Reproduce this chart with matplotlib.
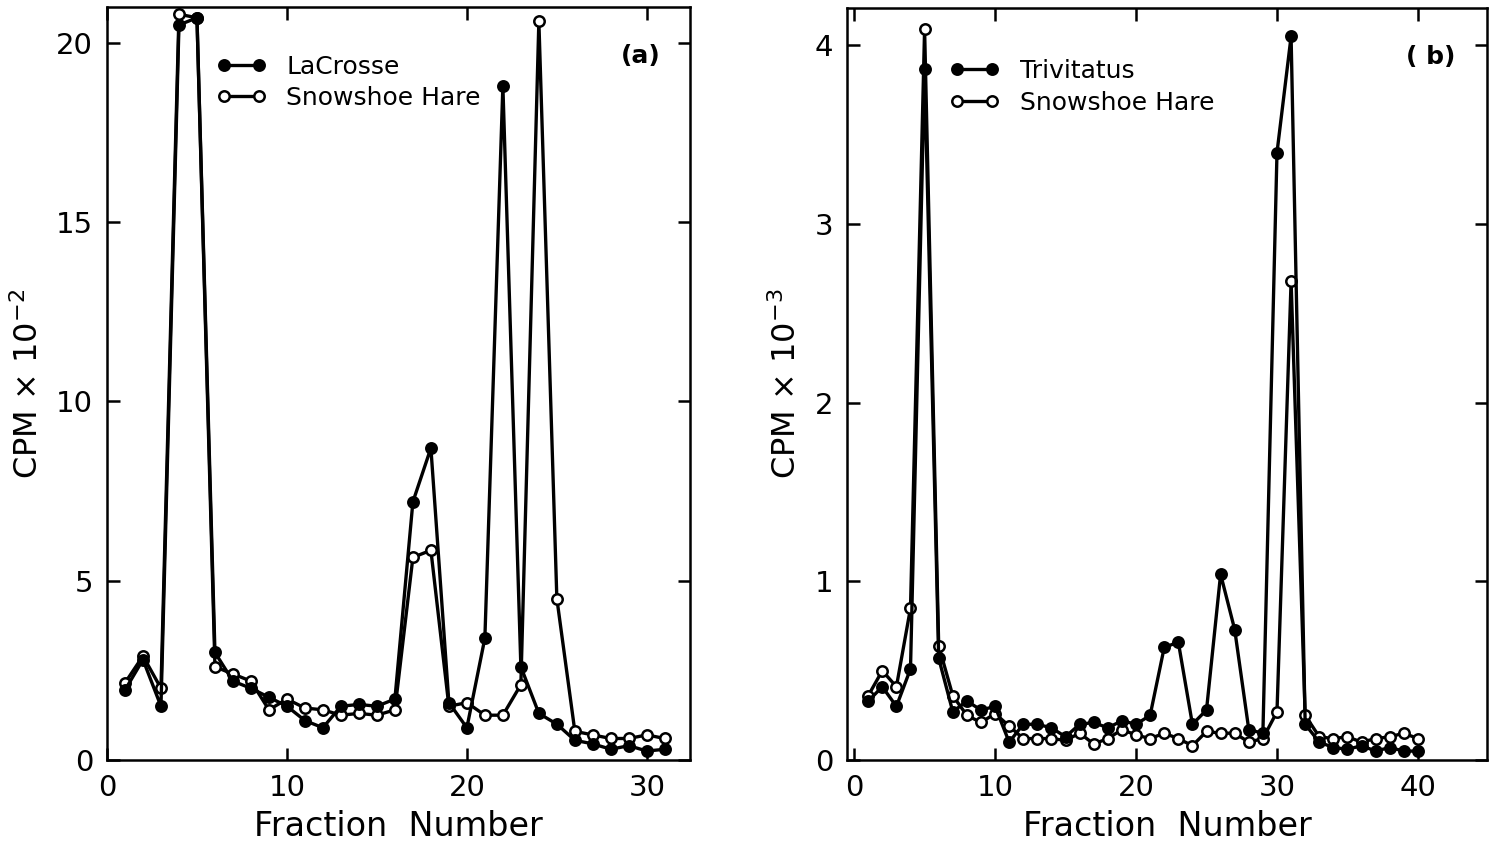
import matplotlib
matplotlib.use('Agg')
import matplotlib.pyplot as plt

# panel (a): fractions 1..31
fractions_a = list(range(1, 32))
lacrosse = [1.95, 2.8, 1.5, 20.5, 20.7, 3.0, 2.2, 2.0, 1.75, 1.5, 1.1, 0.9, 1.5, 1.55, 1.5, 1.7,
            7.2, 8.7, 1.6, 0.9, 3.4, 18.8, 2.6, 1.3, 1.0, 0.55, 0.45, 0.3, 0.4, 0.25, 0.3]
hare_a = [2.15, 2.9, 2.0, 20.8, 20.7, 2.6, 2.4, 2.2, 1.4, 1.7, 1.45, 1.4, 1.25, 1.3, 1.25, 1.4,
          5.65, 5.85, 1.5, 1.6, 1.25, 1.25, 2.1, 20.6, 4.5, 0.8, 0.7, 0.6, 0.6, 0.7, 0.6]

# panel (b): fractions 1..40
fractions_b = list(range(1, 41))
trivitatus = [0.33, 0.41, 0.30, 0.51, 3.87, 0.57, 0.27, 0.33, 0.28, 0.30, 0.10, 0.20, 0.20, 0.18,
              0.13, 0.20, 0.21, 0.18, 0.22, 0.20, 0.25, 0.63, 0.66, 0.20, 0.28, 1.04, 0.73, 0.17,
              0.15, 3.40, 4.05, 0.20, 0.10, 0.07, 0.06, 0.08, 0.05, 0.07, 0.05, 0.05]
hare_b = [0.36, 0.50, 0.41, 0.85, 4.09, 0.64, 0.36, 0.25, 0.21, 0.26, 0.19, 0.12, 0.12, 0.12,
          0.11, 0.15, 0.09, 0.12, 0.17, 0.14, 0.12, 0.15, 0.12, 0.08, 0.16, 0.15, 0.15, 0.10,
          0.12, 0.27, 2.68, 0.25, 0.13, 0.12, 0.13, 0.10, 0.12, 0.13, 0.15, 0.12]

plt.rcParams['font.family'] = ['DejaVu Sans']

fig = plt.figure(figsize=(14.9, 8.47), dpi=100)
ax_a = fig.add_axes([0.0718, 0.1027, 0.3913, 0.889])
ax_b = fig.add_axes([0.5685, 0.1027, 0.4295, 0.888])

line_kw = dict(color='black', linewidth=2.4, marker='o', markersize=7.5, markeredgewidth=1.8)


def draw_panel(ax, x, filled, opened, filled_name, tag, xticks, yticks, xlim, ylim, exp, leg_pos):
    ax.plot(x, opened, markerfacecolor='white', markeredgecolor='black', label='Snowshoe Hare',
            zorder=2, **line_kw)
    ax.plot(x, filled, markerfacecolor='black', markeredgecolor='black', label=filled_name,
            zorder=3, **line_kw)
    ax.set_xlim(*xlim)
    ax.set_ylim(*ylim)
    ax.set_xticks(xticks)
    ax.set_yticks(yticks)
    ax.tick_params(direction='in', length=9, width=1.8, labelsize=21, pad=10,
                   top=True, right=True)
    for s in ax.spines.values():
        s.set_linewidth(1.8)
    ax.set_xlabel('Fraction  Number', fontsize=24, labelpad=6)
    ax.set_ylabel(r'CPM $\times$ 10$^{%s}$' % exp, fontsize=23, labelpad=8)
    handles, labels = ax.get_legend_handles_labels()
    ax.legend(handles[::-1], labels[::-1], loc='upper left', bbox_to_anchor=leg_pos,
              frameon=False, fontsize=18, numpoints=2, handlelength=2.0,
              handletextpad=0.8, labelspacing=0.3, borderaxespad=0)
    ax.text(0.95, 0.935, tag, transform=ax.transAxes, fontsize=18, fontweight='bold',
            ha='right', va='center')


draw_panel(ax_a, fractions_a, lacrosse, hare_a, 'LaCrosse', '(a)', [0, 10, 20, 30],
           [0, 5, 10, 15, 20], (0.15, 32.4), (0, 21.0), '-2', (0.17, 0.95))
draw_panel(ax_b, fractions_b, trivitatus, hare_b, 'Trivitatus', '( b)', [0, 10, 20, 30, 40],
           [0, 1, 2, 3, 4], (-0.5, 44.9), (0, 4.21), '-3', (0.145, 0.945))

fig.savefig('out.png', dpi=100)
